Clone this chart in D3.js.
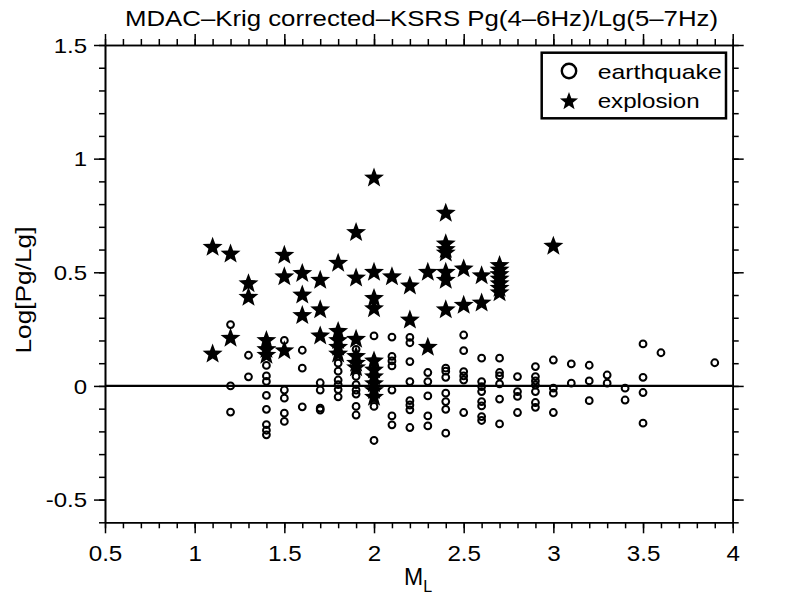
<!DOCTYPE html>
<html><head><meta charset="utf-8">
<script src="https://cdn.jsdelivr.net/npm/d3@7"></script>
<style>
body{margin:0;background:#fff}
svg{display:block}
text{font-family:"Liberation Sans",Arial,Helvetica,sans-serif;fill:#000}
</style>
</head><body>
<svg id="c" width="810" height="602"></svg>
<script>
// ---- data ----
const titleText = "MDAC\u2013Krig corrected\u2013KSRS Pg(4\u20136Hz)/Lg(5\u20137Hz)";
const xLabelMain = "M";
const xLabelSub = "L";
const yLabelText = "Log[Pg/Lg]";
const legendLabels = ["earthquake", "explosion"];
const xTickValues = [0.5, 1, 1.5, 2, 2.5, 3, 3.5, 4];
const xTickLabels = ["0.5", "1", "1.5", "2", "2.5", "3", "3.5", "4"];
const yTickValues = [-0.5, 0, 0.5, 1, 1.5];
const yTickLabels = ["-0.5", "0", "0.5", "1", "1.5"];

// earthquakes: [ML, log(Pg/Lg)]
const earthquakes = [
  [1.2,0.27],[1.2,0.0],[1.2,-0.115],
  [1.3,0.135],[1.3,0.04],
  [1.4,0.09],[1.4,0.044],[1.4,0.02],[1.4,-0.042],[1.4,-0.103],[1.4,-0.17],[1.4,-0.195],[1.4,-0.215],
  [1.5,0.20],[1.5,-0.018],[1.5,-0.054],[1.5,-0.12],[1.5,-0.156],
  [1.6,0.157],[1.6,0.078],[1.6,-0.092],
  [1.7,0.014],[1.7,-0.018],[1.7,-0.098],[1.7,-0.106],
  [1.8,0.10],[1.8,0.065],[1.8,0.026],[1.8,0.006],[1.8,-0.016],[1.8,-0.048],
  [1.9,0.161],[1.9,0.129],[1.9,0.042],[1.9,0.006],[1.9,-0.018],[1.9,-0.036],[1.9,-0.09],[1.9,-0.128],
  [2.0,0.22],[2.0,-0.09],[2.0,-0.24],
  [2.1,0.215],[2.1,0.13],[2.1,0.11],[2.1,0.088],[2.1,-0.018],[2.1,-0.132],[2.1,-0.171],
  [2.2,0.214],[2.2,0.19],[2.2,0.107],[2.2,0.019],[2.2,-0.065],[2.2,-0.084],[2.2,-0.105],[2.2,-0.183],
  [2.3,0.059],[2.3,0.019],[2.3,-0.044],[2.3,-0.132],[2.3,-0.176],
  [2.4,0.078],[2.4,0.065],[2.4,0.038],[2.4,-0.032],[2.4,-0.069],[2.4,-0.103],[2.4,-0.208],
  [2.5,0.224],[2.5,0.155],[2.5,0.063],[2.5,0.044],[2.5,0.026],[2.5,-0.117],
  [2.6,0.122],[2.6,0.019],[2.6,-0.003],[2.6,-0.025],[2.6,-0.069],[2.6,-0.088],[2.6,-0.135],[2.6,-0.152],
  [2.7,0.122],[2.7,0.059],[2.7,0.044],[2.7,0.009],[2.7,-0.058],[2.7,-0.167],
  [2.8,0.041],[2.8,-0.025],[2.8,-0.046],[2.8,-0.117],
  [2.9,0.085],[2.9,0.041],[2.9,0.022],[2.9,0.004],[2.9,-0.025],[2.9,-0.073],[2.9,-0.094],
  [3.0,0.114],[3.0,-0.01],[3.0,-0.032],[3.0,-0.117],
  [3.1,0.097],[3.1,0.012],
  [3.2,0.091],[3.2,0.022],[3.2,-0.065],
  [3.3,0.048],[3.3,0.012],
  [3.4,-0.01],[3.4,-0.062],
  [3.5,0.185],[3.5,0.038],[3.5,-0.029],[3.5,-0.164],
  [3.6,0.146],
  [3.9,0.102]
];

// explosions: [ML, log(Pg/Lg)]
const explosions = [
  [1.1,0.61],[1.1,0.14],
  [1.2,0.58],[1.2,0.21],
  [1.3,0.45],[1.3,0.39],
  [1.4,0.20],[1.4,0.16],[1.4,0.135],
  [1.5,0.575],[1.5,0.48],[1.5,0.155],
  [1.6,0.495],[1.6,0.40],[1.6,0.31],
  [1.7,0.465],[1.7,0.335],[1.7,0.22],
  [1.8,0.54],[1.8,0.24],[1.8,0.20],[1.8,0.17],[1.8,0.14],
  [1.9,0.675],[1.9,0.475],[1.9,0.205],[1.9,0.13],[1.9,0.10],[1.9,0.08],
  [2.0,0.915],[2.0,0.50],[2.0,0.385],[2.0,0.34],[2.0,0.11],[2.0,0.07],[2.0,0.04],[2.0,0.01],[2.0,-0.02],[2.0,-0.05],
  [2.1,0.48],
  [2.2,0.44],[2.2,0.29],
  [2.3,0.50],[2.3,0.17],
  [2.4,0.76],[2.4,0.625],[2.4,0.60],[2.4,0.585],[2.4,0.50],[2.4,0.465],[2.4,0.335],
  [2.5,0.515],[2.5,0.355],
  [2.6,0.485],[2.6,0.365],
  [2.7,0.53],[2.7,0.51],[2.7,0.49],[2.7,0.47],[2.7,0.45],[2.7,0.43],[2.7,0.41],
  [3.0,0.615]
];

// ---- drawing ----
const svg = d3.select("#c");
const x = d3.scaleLinear().domain([0.5, 4]).range([105, 732.7]);
const y = d3.scaleLinear().domain([-0.6, 1.5]).range([522.3, 45]);
const xMinor = d3.range(5, 41).map(d => d / 10);
const yMinor = d3.range(-6, 16).map(d => d / 10);
const X0 = x.range()[0], X1 = x.range()[1], Y0 = y.range()[0], Y1 = y.range()[1];

function styleAxis(g) {
  g.selectAll("path.domain").attr("stroke", "#000").attr("stroke-width", 1.6);
  g.selectAll(".tick line").attr("stroke", "#000").attr("stroke-width", 1.5);
}

// bottom
svg.append("g").attr("transform", `translate(0,${Y0})`)
  .call(d3.axisBottom(x).tickValues(xMinor).tickSize(6).tickSizeOuter(0).tickFormat(""))
  .call(styleAxis);
const gb = svg.append("g").attr("transform", `translate(0,${Y0})`)
  .call(d3.axisBottom(x).tickValues(xTickValues).tickSize(11).tickSizeOuter(0)
    .tickFormat((d, i) => xTickLabels[i]))
  .call(styleAxis);
gb.selectAll(".tick text").attr("y", 39).attr("dy", 0).attr("font-size", 22)
  .attr("fill", "#000").attr("transform", "scale(1.1,1)");

// top
svg.append("g").attr("transform", `translate(0,${Y1})`)
  .call(d3.axisTop(x).tickValues(xMinor).tickSize(6).tickSizeOuter(0).tickFormat(""))
  .call(styleAxis);
svg.append("g").attr("transform", `translate(0,${Y1})`)
  .call(d3.axisTop(x).tickValues(xTickValues).tickSize(11).tickSizeOuter(0).tickFormat(""))
  .call(styleAxis);

// left
svg.append("g").attr("transform", `translate(${X0},0)`)
  .call(d3.axisLeft(y).tickValues(yMinor).tickSize(6).tickSizeOuter(0).tickFormat(""))
  .call(styleAxis);
const gl = svg.append("g").attr("transform", `translate(${X0},0)`)
  .call(d3.axisLeft(y).tickValues(yTickValues).tickSize(11).tickSizeOuter(0)
    .tickFormat((d, i) => yTickLabels[i]))
  .call(styleAxis);
gl.selectAll(".tick text").attr("x", -18 / 1.2).attr("dy", "0.36em").attr("font-size", 20)
  .attr("fill", "#000").attr("transform", "scale(1.2,1)");

// right
svg.append("g").attr("transform", `translate(${X1},0)`)
  .call(d3.axisRight(y).tickValues(yMinor).tickSize(6).tickSizeOuter(0).tickFormat(""))
  .call(styleAxis);
svg.append("g").attr("transform", `translate(${X1},0)`)
  .call(d3.axisRight(y).tickValues(yTickValues).tickSize(11).tickSizeOuter(0).tickFormat(""))
  .call(styleAxis);

// zero line
svg.append("line").attr("x1", X0).attr("x2", X1).attr("y1", y(0)).attr("y2", y(0))
  .attr("stroke", "#000").attr("stroke-width", 2.2);

// star path
function starPath(cx, cy, R, ratio) {
  const r = R * ratio;
  const pts = [];
  for (let i = 0; i < 10; i++) {
    const a = -Math.PI / 2 + i * Math.PI / 5;
    const rr = i % 2 === 0 ? R : r;
    pts.push([cx + rr * Math.cos(a), cy + rr * Math.sin(a)]);
  }
  return "M" + pts.map(p => p[0].toFixed(2) + "," + p[1].toFixed(2)).join("L") + "Z";
}

// earthquakes
svg.append("g").selectAll("circle").data(earthquakes).join("circle")
  .attr("cx", d => x(d[0])).attr("cy", d => y(d[1])).attr("r", 3.4)
  .attr("fill", "none").attr("stroke", "#000").attr("stroke-width", 2);

// explosions
svg.append("g").selectAll("path").data(explosions).join("path")
  .attr("d", d => starPath(x(d[0]), y(d[1]), 10.5, 0.42))
  .attr("fill", "#000");

// legend
const lg = svg.append("g");
lg.append("rect").attr("x", 541.7).attr("y", 52.7).attr("width", 184.3).attr("height", 65.6)
  .attr("fill", "#fff").attr("stroke", "#000").attr("stroke-width", 2.5);
lg.append("circle").attr("cx", 569).attr("cy", 71).attr("r", 7.2)
  .attr("fill", "none").attr("stroke", "#000").attr("stroke-width", 2.4);
lg.append("path").attr("d", starPath(569, 101.5, 9.5, 0.42)).attr("fill", "#000");
lg.append("text").attr("x", 597.7).attr("y", 78.5).attr("font-size", 21)
  .attr("textLength", 124).attr("lengthAdjust", "spacingAndGlyphs").text(legendLabels[0]);
lg.append("text").attr("x", 597.7).attr("y", 107.5).attr("font-size", 21)
  .attr("textLength", 102).attr("lengthAdjust", "spacingAndGlyphs").text(legendLabels[1]);

// title
svg.append("text").attr("x", 421.5).attr("y", 25.5).attr("text-anchor", "middle")
  .attr("font-size", 22).attr("textLength", 593).attr("lengthAdjust", "spacingAndGlyphs")
  .text(titleText);

// x label
const xl = svg.append("text").attr("x", 418).attr("y", 585).attr("text-anchor", "middle")
  .attr("font-size", 23);
xl.append("tspan").text(xLabelMain);
xl.append("tspan").attr("font-size", 16).attr("dy", 7).text(xLabelSub);

// y label
svg.append("text").attr("transform", "translate(31,290) rotate(-90)").attr("text-anchor", "middle")
  .attr("font-size", 22).attr("textLength", 127).attr("lengthAdjust", "spacingAndGlyphs")
  .text(yLabelText);
</script>
</body></html>
